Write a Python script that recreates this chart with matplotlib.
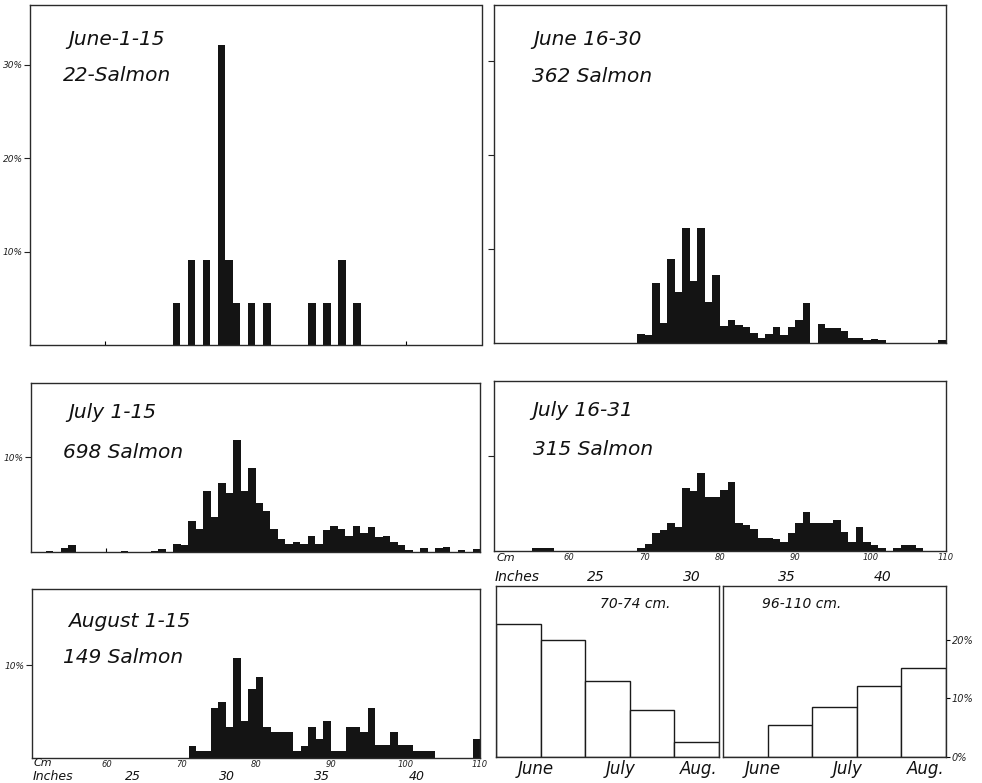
import matplotlib
matplotlib.use("Agg")
import matplotlib.pyplot as plt
from matplotlib.transforms import blended_transform_factory

# ---------------- data (percent of fish per 1-cm length class) ----------------
june1_bins = [69, 71, 73, 75, 76, 77, 79, 81, 87, 89, 91, 93]
june1_pct = [4.5, 9.1, 9.1, 32.1, 9.1, 4.5, 4.5, 4.5, 4.5, 4.5, 9.1, 4.5]

june2_bins = [69, 70, 71, 72, 73, 74, 75, 76, 77, 78, 79, 80, 81, 82, 83, 84, 85,
              86, 87, 88, 89, 90, 91, 93, 94, 95, 96, 97, 98, 99, 100, 101, 109]
june2_pct = [1.0, 0.8, 6.4, 2.1, 9.0, 5.4, 12.3, 6.6, 12.3, 4.4, 7.2, 1.8, 2.4,
             1.9, 1.7, 1.1, 0.5, 1.0, 1.7, 0.8, 1.7, 2.4, 4.3, 2.0, 1.6, 1.6,
             1.3, 0.5, 0.5, 0.3, 0.4, 0.3, 0.3]

july1_bins = [52, 54, 55, 62, 66, 67, 69, 70, 71, 72, 73, 74, 75, 76, 77, 78, 79,
              80, 81, 82, 83, 84, 85, 86, 87, 88, 89, 90, 91, 92, 93, 94, 95, 96,
              97, 98, 99, 100, 102, 104, 105, 107, 109]
july1_pct = [0.15, 0.43, 0.72, 0.15, 0.15, 0.3, 0.86, 0.72, 3.3, 2.4, 6.4, 3.7,
             7.3, 6.2, 11.8, 6.4, 8.9, 5.2, 4.35, 2.4, 1.33, 0.84, 1.05, 0.84,
             1.72, 0.84, 2.35, 2.7, 2.4, 1.68, 2.74, 1.96, 2.67, 1.54, 1.68,
             1.05, 0.77, 0.25, 0.42, 0.42, 0.5, 0.25, 0.3]

july2_bins = [55, 56, 57, 69, 70, 71, 72, 73, 74, 75, 76, 77, 78, 79, 80, 81, 82,
              83, 84, 85, 86, 87, 88, 89, 90, 91, 92, 93, 94, 95, 96, 97, 98, 99,
              100, 101, 103, 104, 105, 106]
july2_pct = [0.32, 0.32, 0.32, 0.32, 0.7, 1.9, 2.25, 2.9, 2.55, 6.67, 6.35, 8.25,
             5.71, 5.71, 6.4, 7.3, 3.0, 2.7, 2.35, 1.33, 1.33, 1.3, 1.0, 1.93,
             2.98, 4.1, 2.98, 2.98, 2.98, 3.25, 1.98, 0.95, 2.52, 0.95, 0.68,
             0.35, 0.35, 0.63, 0.63, 0.32]

aug_bins = [71, 72, 73, 74, 75, 76, 77, 78, 79, 80, 81, 82, 83, 84, 85, 86, 87,
            88, 89, 90, 91, 92, 93, 94, 95, 96, 97, 98, 99, 100, 101, 102, 103, 109]
aug_pct = [1.3, 0.75, 0.75, 5.37, 6.04, 3.36, 10.8, 4.03, 7.38, 8.72, 3.36, 2.75,
           2.75, 2.75, 0.75, 1.34, 3.36, 2.01, 4.03, 0.75, 0.75, 3.36, 3.36, 2.75,
           5.37, 1.37, 1.37, 2.8, 1.37, 1.37, 0.75, 0.75, 0.75, 2.01]

periods = ["June 1-15", "June 16-30", "July 1-15", "July 16-31", "Aug 1-15"]
small_pct = [22.7, 20.0, 13.0, 8.0, 2.6]      # 70-74 cm
large_pct = [0.0, 5.5, 8.6, 12.2, 15.2]       # 96-110 cm

month_labels = ["June", "July", "Aug."]
cm_ticks = [60, 70, 80, 90, 100, 110]
inch_ticks = [25, 30, 35, 40]

# ---------------- layout ----------------
W, H = 982, 783
fig = plt.figure(figsize=(W / 100, H / 100), dpi=100)
fig.patch.set_facecolor("white")

FONT = "DejaVu Sans"
INK = "#141414"


def rect(x0, y0, x1, y1):
    return [x0 / W, 1 - y1 / H, (x1 - x0) / W, (y1 - y0) / H]


def style_spines(ax):
    for s in ax.spines.values():
        s.set_color("#2a2a2a")
        s.set_linewidth(1.0)


def hist_panel(r, bins, pct, ymax, ytick_vals, ytick_labels, line1, line2,
               t1, t2, xtick_marks=(), labelled_x=False, cm_y=-0.04, in_y=-0.15,
               in_size=10):
    ax = fig.add_axes(rect(*r))
    ax.bar(bins, pct, width=1.0, align="edge", color=INK, linewidth=0)
    ax.set_xlim(50, 110)
    ax.set_ylim(0, ymax)
    style_spines(ax)
    ax.set_yticks(ytick_vals)
    ax.set_yticklabels(ytick_labels, fontsize=6.5, style="italic", family=FONT,
                       color="#222")
    ax.tick_params(axis="y", direction="out", length=4, width=0.8, pad=1,
                   colors="#222")
    if labelled_x:
        ax.set_xticks(cm_ticks)
        ax.set_xticklabels([str(v) for v in cm_ticks], fontsize=6, style="italic",
                           family=FONT, color="#222")
        ax.tick_params(axis="x", length=0, pad=1.5)
        tr = blended_transform_factory(ax.transData, ax.transAxes)
        ax.text(50.3, cm_y, "Cm", transform=tr, ha="left", va="center",
                fontsize=8, style="italic", family=FONT, color="#111")
        ax.text(50.1, in_y, "Inches", transform=tr, ha="left", va="center",
                fontsize=in_size, style="italic", family=FONT, color="#111")
        for v in inch_ticks:
            ax.text(v * 2.54, in_y, str(v), transform=tr, ha="center",
                    va="center", fontsize=in_size, style="italic", family=FONT,
                    color="#111")
    else:
        ax.set_xticks(list(xtick_marks))
        ax.set_xticklabels([])
        ax.tick_params(axis="x", direction="in", length=3, width=0.8)
    ax.text(t1[0], t1[1], line1, transform=ax.transAxes, ha="left",
            va="baseline", fontsize=14.5, style="italic", family=FONT, color="#111")
    ax.text(t2[0], t2[1], line2, transform=ax.transAxes, ha="left",
            va="baseline", fontsize=14.5, style="italic", family=FONT, color="#111")
    return ax


hist_panel((29.5, 5, 481.5, 345), june1_bins, june1_pct, 36.4,
           [10, 20, 30], ["10%", "20%", "30%"], "June-1-15", "22-Salmon",
           (0.085, 0.882), (0.074, 0.776), xtick_marks=(60, 100))

hist_panel((494, 5, 946, 343), june2_bins, june2_pct, 36.0,
           [10, 20, 30], ["", "", ""], "June 16-30", "362 Salmon",
           (0.086, 0.882), (0.084, 0.773))

hist_panel((31, 383, 480, 552), july1_bins, july1_pct, 17.8,
           [10], ["10%"], "July 1-15", "698 Salmon",
           (0.082, 0.79), (0.071, 0.556), xtick_marks=(60,))

hist_panel((494, 381, 946, 551), july2_bins, july2_pct, 17.9,
           [10], [""], "July 16-31", "315 Salmon",
           (0.084, 0.794), (0.086, 0.565), labelled_x=True,
           cm_y=-0.04, in_y=-0.151)

hist_panel((31.7, 589, 480, 758), aug_bins, aug_pct, 18.2,
           [10], ["10%"], "August 1-15", "149 Salmon",
           (0.081, 0.775), (0.07, 0.562), labelled_x=True,
           cm_y=-0.03, in_y=-0.108, in_size=9)

# ---------------- seasonal bar panels ----------------
month_ticks = [0.9, 2.8, 4.55]


def season_panel(r, values, title, tx, right_axis=False):
    ax = fig.add_axes(rect(*r))
    ax.bar(range(len(values)), values, width=1.0, align="edge", color="white",
           edgecolor="#1a1a1a", linewidth=1.0)
    ax.set_xlim(0, len(values))
    ax.set_ylim(0, 29.2)
    style_spines(ax)
    ax.set_xticks(month_ticks)
    ax.set_xticklabels(month_labels, fontsize=12, style="italic", family=FONT,
                       color="#111")
    ax.tick_params(axis="x", length=0, pad=2)
    if right_axis:
        ax.yaxis.tick_right()
        ax.set_yticks([0, 10, 20])
        ax.set_yticklabels(["0%", "10%", "20%"], fontsize=7, style="italic",
                           family=FONT, color="#222")
        ax.tick_params(axis="y", direction="out", length=3, width=0.8, pad=1)
    else:
        ax.set_yticks([])
    ax.text(tx, 0.871, title, transform=ax.transAxes, ha="left", va="baseline",
            fontsize=10, style="italic", family=FONT, color="#111")
    return ax


season_panel((496, 586, 719, 757), small_pct, "70-74 cm.", 0.466)
season_panel((723, 586, 946, 757), large_pct, "96-110 cm.", 0.175, right_axis=True)

fig.savefig("out.png", dpi=100, facecolor="white")
